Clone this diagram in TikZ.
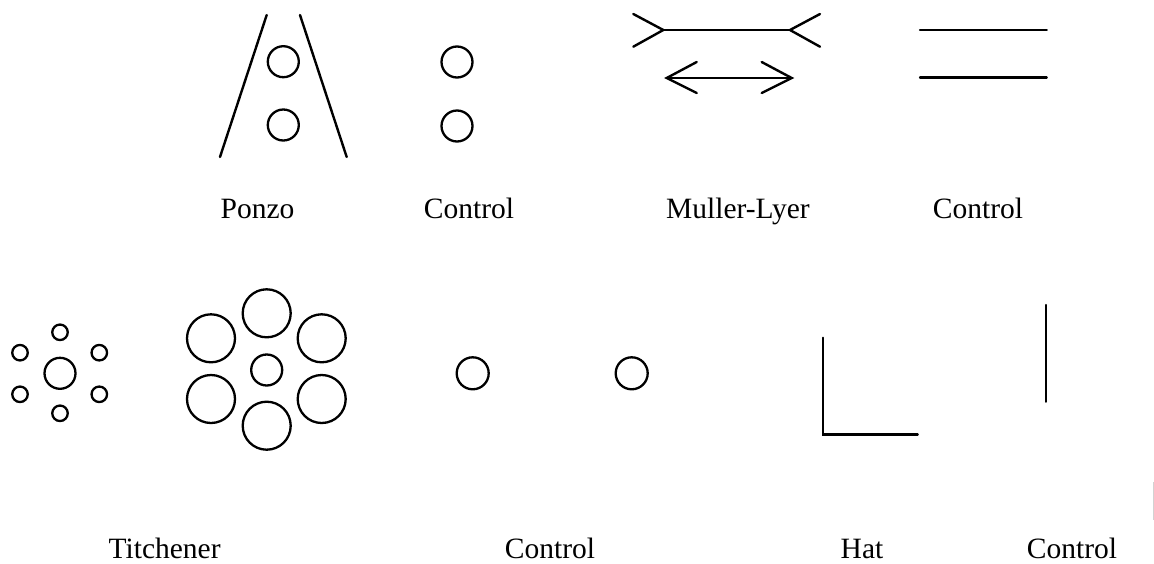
\documentclass[tikz,border=0pt]{standalone}
\usepackage{fontspec}
\setmainfont{Liberation Serif}
\begin{document}
\begin{tikzpicture}[x=1pt,y=-1pt,
  ln/.style={line width=2.4pt, line cap=round, line join=miter},
  ring/.style={circle, draw, line width=2.3pt, inner sep=0pt, minimum size=#1},
  lbl/.style={anchor=base, inner sep=0pt, font=\fontsize{29.5}{34}\selectfont}]
\useasboundingbox (0,0) rectangle (1154,563);
% Ponzo
\draw[ln] (266.7,15) -- (220,157);
\draw[ln] (300,15) -- (346.7,157);
\node[ring=31pt] (p1) at (283.3,61.7) {};
\node[ring=31pt] (p2) at (283.3,125) {};
% Control 1
\node[ring=31pt] (c1) at (457,62) {};
\node[ring=31pt] (c2) at (457,126) {};
% Muller-Lyer
\draw[ln] (633.3,14) -- (663.3,30) -- (633.3,46.7);
\draw[ln] (663.3,30) -- (790,30);
\draw[ln] (820,14) -- (790,30) -- (820,46.7);
\draw[ln] (696.7,62) -- (666.7,78) -- (696.7,93);
\draw[ln] (666.7,78) -- (791.7,78);
\draw[ln] (761.7,62) -- (791.7,78) -- (761.7,93);
% Control 2
\draw[ln] (920,30) -- (1046.7,30);
\draw[ln] (920,77.3) -- (1046.7,77.3);
% Titchener small
\node[ring=31pt] (t0) at (60,373.3) {};
\node[ring=15.5pt] (t1) at (60,332.3) {};
\node[ring=15.5pt] (t2) at (20,352.7) {};
\node[ring=15.5pt] (t3) at (99.3,352.7) {};
\node[ring=15.5pt] (t4) at (20,394.3) {};
\node[ring=15.5pt] (t5) at (99.3,394.3) {};
\node[ring=15.5pt] (t6) at (60,413.3) {};
% Titchener large
\node[ring=31pt] (u0) at (266.7,370) {};
\node[ring=48pt] (u1) at (266.7,313.3) {};
\node[ring=48pt] (u2) at (211,338.3) {};
\node[ring=48pt] (u3) at (321.7,338.3) {};
\node[ring=48pt] (u4) at (211,399) {};
\node[ring=48pt] (u5) at (321.7,399) {};
\node[ring=48pt] (u6) at (266.7,425.7) {};
% Control 3
\node[ring=32pt] (d1) at (472.7,373.3) {};
\node[ring=32pt] (d2) at (631.7,373.3) {};
% Hat
\draw[ln] (822.7,337.7) -- (822.7,434.3) -- (917.7,434.3);
% Control 4
\draw[ln] (1045.7,305) -- (1045.7,401.7);
% faint edge mark
\draw[gray!35, line width=1pt] (1153,482) -- (1153,520);
% labels
\node[lbl] (l1) at (257.5,218.3) {Ponzo};
\node[lbl] (l2) at (469,218.3) {Control};
\node[lbl] (l3) at (738,218.3) {Muller-Lyer};
\node[lbl] (l4) at (978,218.3) {Control};
\node[lbl] (l5) at (164.6,558.3) {Titchener};
\node[lbl] (l6) at (550,558.3) {Control};
\node[lbl] (l7) at (862,558.3) {Hat};
\node[lbl] (l8) at (1072,558.3) {Control};
\end{tikzpicture}
\end{document}
